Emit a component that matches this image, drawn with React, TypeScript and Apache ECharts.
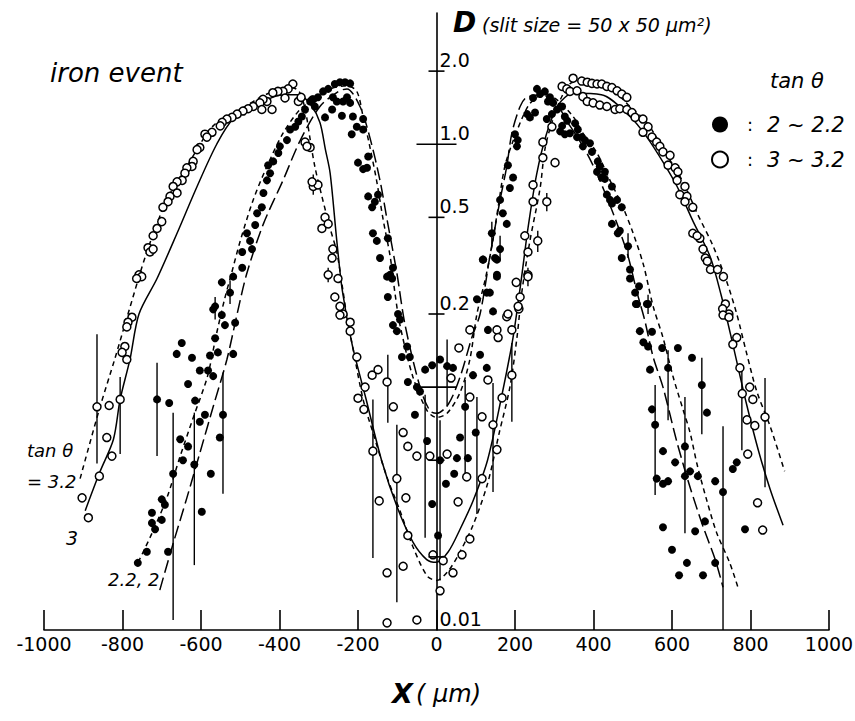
import React, { useEffect, useRef } from "react";
import * as echarts from "echarts";

// ---------- data (x in µm, D on log scale) ----------
const X_TICKS_MIN = -1000;
const X_TICKS_MAX = 1000;
const X_INTERVAL = 200;
const Y_MIN = 0.01;
const Y_MAX = 3.47;

const Y_TICK_VALUES = [2, 1, 0.5, 0.2, 0.1, 0.05, 0.02];
const Y_LONG_TICKS = [1, 0.1];
const Y_LABEL_VALUES = [2, 1, 0.5, 0.2, 0.01];
const Y_LABEL_TEXT = ["2.0", "1.0", "0.5", "0.2", "0.01"];

const SERIES_FILLED = "2 ~ 2.2";
const SERIES_OPEN = "3 ~ 3.2";

// tan θ = 2 ~ 2.2 (filled circles)
const FILLED_POINTS: [number, number][] = [
  [-569, 0.209], [-547, 0.198], [-539, 0.18], [-513, 0.184],
  [-649, 0.152], [-662, 0.137], [-623, 0.132],
  [-564, 0.159], [-577, 0.135], [-557, 0.139], [-518, 0.137],
  [-603, 0.117], [-582, 0.117], [-569, 0.111],
  [-633, 0.103], [-615, 0.088], [-603, 0.072], [-590, 0.077],
  [-712, 0.089], [-681, 0.086], [-544, 0.077], [-552, 0.062],
  [-653, 0.061], [-633, 0.057], [-646, 0.05],
  [-617, 0.048], [-671, 0.044], [-575, 0.044],
  [-700, 0.0345], [-692, 0.0328], [-725, 0.0304], [-700, 0.0284], [-725, 0.0276], [-717, 0.026],
  [-598, 0.0307], [-738, 0.021], [-684, 0.021], [-761, 0.0189],
  [-547, 0.27], [-526, 0.245], [-564, 0.215], [-518, 0.285], [-495, 0.31], [-495, 0.36],
  [-470, 0.37], [-483, 0.43], [-475, 0.4], [-462, 0.465], [-457, 0.52], [-445, 0.55],
  [-441, 0.63], [-432, 0.71], [-424, 0.76], [-429, 0.82], [-416, 0.85], [-403, 0.92],
  [-399, 0.98], [-381, 1.04], [-373, 1.15], [-360, 1.18], [-352, 1.24], [-343, 1.3],
  [-335, 1.39], [-322, 1.5], [-314, 1.53],
  [-259, 1.77], [-246, 1.8], [-233, 1.8], [-220, 1.78], [-276, 1.69], [-289, 1.65],
  [-302, 1.56], [-317, 1.53], [-310, 1.43], [-264, 1.56], [-254, 1.5], [-238, 1.5],
  [-228, 1.56], [-220, 1.48], [-241, 1.31], [-266, 1.39], [-284, 1.29], [-213, 1.3],
  [-187, 1.27], [-203, 1.18], [-187, 1.15], [-216, 1.1], [-174, 0.89], [-200, 0.84],
  [-177, 0.8], [-187, 0.79], [-149, 0.62], [-174, 0.61], [-157, 0.58], [-164, 0.55],
  [-162, 0.43], [-152, 0.4], [-124, 0.41], [-144, 0.34], [-126, 0.285], [-113, 0.28],
  [-124, 0.235], [-98, 0.2], [-111, 0.31], [-118, 0.29],
  [-93, 0.19], [-111, 0.18], [-101, 0.17], [-75, 0.147], [-88, 0.133], [-68, 0.133],
  [-11, 0.123], [9, 0.13], [-29, 0.118], [-73, 0.105], [-50, 0.1], [-42, 0.096],
  [27, 0.122], [42, 0.12], [-55, 0.077], [-24, 0.06], [9, 0.05], [-11, 0.033],
  [4, 0.0245], [24, 0.04], [45, 0.044], [52, 0.051], [80, 0.051], [60, 0.062],
  [73, 0.083], [100, 0.065], [93, 0.112], [111, 0.136], [103, 0.23], [128, 0.12],
  [128, 0.245], [131, 0.172], [144, 0.205], [118, 0.335], [149, 0.34], [154, 0.29],
  [256, 1.69], [264, 1.61], [276, 1.65], [284, 1.5], [289, 1.56], [297, 1.48], [246, 1.55],
  [231, 1.33], [238, 1.29], [251, 1.35], [281, 1.27], [294, 1.33], [307, 1.39], [320, 1.43],
  [327, 1.3], [333, 1.25], [320, 1.19], [315, 1.13], [327, 1.1], [340, 1.11], [353, 1.22],
  [360, 1.15], [370, 1.07], [358, 1.07], [378, 1.04], [373, 0.98], [391, 1.01], [396, 0.93],
  [200, 1.1], [207, 1.04], [205, 0.98], [182, 0.82], [195, 0.73], [187, 0.66], [162, 0.59],
  [169, 0.52], [179, 0.47], [141, 0.43], [162, 0.37], [154, 0.335], [119, 0.335],
  [136, 0.245], [154, 0.285],
  [411, 0.85], [416, 0.81], [409, 0.77], [429, 0.77], [421, 0.73], [429, 0.72], [447, 0.67],
  [434, 0.62], [442, 0.59], [460, 0.59], [447, 0.57], [472, 0.55], [447, 0.47], [467, 0.44],
  [462, 0.43], [488, 0.38], [472, 0.34], [493, 0.305], [493, 0.28], [506, 0.245], [516, 0.26],
  [511, 0.22], [539, 0.22], [508, 0.22], [536, 0.22], [518, 0.17], [549, 0.169], [527, 0.153],
  [539, 0.147], [575, 0.145], [615, 0.145], [651, 0.132], [544, 0.118], [590, 0.12],
  [676, 0.102], [689, 0.0785], [549, 0.081], [557, 0.07], [577, 0.0545], [608, 0.049],
  [633, 0.057], [561, 0.042], [577, 0.04], [590, 0.041], [633, 0.043], [646, 0.045],
  [666, 0.043], [710, 0.041], [730, 0.037], [755, 0.046], [765, 0.049], [577, 0.0265],
  [659, 0.0255], [684, 0.028], [600, 0.0214], [638, 0.0189], [710, 0.0189], [618, 0.0168],
  [679, 0.0168], [786, 0.026],
];

// tan θ = 3 ~ 3.2 (open circles)
const OPEN_POINTS: [number, number][] = [
  [-366, 1.77], [-378, 1.69], [-391, 1.65], [-404, 1.65], [-417, 1.63], [-386, 1.55],
  [-352, 1.5], [-345, 1.56],
  [-432, 1.5], [-442, 1.53], [-450, 1.48], [-467, 1.43], [-480, 1.4], [-493, 1.37],
  [-508, 1.33], [-521, 1.29], [-534, 1.27], [-546, 1.23], [-551, 1.19], [-419, 1.39],
  [-445, 1.39], [-572, 1.12], [-590, 1.1], [-585, 1.07], [-603, 0.97], [-610, 0.95],
  [-620, 0.85], [-623, 0.81], [-636, 0.8], [-641, 0.76], [-648, 0.71], [-661, 0.7],
  [-671, 0.67], [-661, 0.63], [-679, 0.61], [-684, 0.58], [-697, 0.55], [-700, 0.48],
  [-712, 0.45], [-722, 0.42], [-735, 0.375], [-730, 0.36], [-722, 0.37], [-758, 0.29],
  [-751, 0.285], [-764, 0.28],
  [-776, 0.194], [-786, 0.185], [-789, 0.177], [-794, 0.147], [-801, 0.139], [-789, 0.13],
  [-806, 0.089], [-865, 0.083], [-834, 0.084], [-840, 0.062], [-827, 0.052], [-859, 0.043],
  [-903, 0.035], [-887, 0.029],
  [-335, 1.02], [-322, 0.97], [-330, 0.98], [-314, 0.67], [-302, 0.68], [-317, 0.7],
  [-284, 0.5], [-292, 0.45], [-276, 0.47], [-264, 0.37], [-266, 0.34], [-276, 0.29],
  [-251, 0.28], [-259, 0.235], [-246, 0.215], [-238, 0.2], [-246, 0.198], [-220, 0.185],
  [-220, 0.17], [-203, 0.133], [-164, 0.112], [-149, 0.118], [-182, 0.1], [-200, 0.09],
  [-185, 0.081], [-126, 0.105], [-110, 0.083], [-85, 0.065], [-73, 0.057], [-50, 0.052],
  [-17, 0.052], [-162, 0.0545], [-101, 0.042], [-146, 0.034], [-78, 0.035], [-73, 0.0245],
  [-9, 0.0204], [17, 0.0193], [-126, 0.0172], [-85, 0.0183], [9, 0.0145], [-126, 0.0107],
  [-50, 0.011],
  [42, 0.0172], [65, 0.0204], [85, 0.0237], [55, 0.0337], [77, 0.0427], [116, 0.042],
  [27, 0.053], [37, 0.109], [57, 0.145], [85, 0.091], [116, 0.0755], [131, 0.107],
  [144, 0.07], [154, 0.0553], [167, 0.0903], [85, 0.172], [154, 0.172], [179, 0.195],
  [192, 0.172], [157, 0.16], [192, 0.112], [203, 0.27], [213, 0.235], [210, 0.21],
  [233, 0.36], [233, 0.29],
  [294, 1.18], [271, 1.02], [271, 0.88], [302, 0.84], [246, 0.68], [246, 0.58], [281, 0.58],
  [225, 0.42], [258, 0.4], [233, 0.285], [208, 0.215], [182, 0.2],
  [348, 1.87], [370, 1.82], [384, 1.8], [396, 1.78], [409, 1.77], [421, 1.77], [434, 1.73],
  [447, 1.71], [460, 1.66], [472, 1.61], [485, 1.56],
  [320, 1.73], [332, 1.69], [340, 1.65], [358, 1.66], [373, 1.57], [384, 1.5], [399, 1.48],
  [416, 1.45], [434, 1.43], [455, 1.39], [467, 1.4], [485, 1.39], [498, 1.35], [506, 1.29],
  [526, 1.27], [539, 1.18], [526, 1.12], [549, 1.07], [561, 1.02], [569, 0.98], [577, 0.93],
  [595, 0.9], [590, 0.82], [608, 0.8], [615, 0.77], [613, 0.71], [633, 0.67], [620, 0.62],
  [638, 0.61], [633, 0.58], [653, 0.55], [653, 0.43], [671, 0.41], [664, 0.42], [679, 0.37],
  [685, 0.34], [690, 0.33], [698, 0.305], [716, 0.305], [731, 0.285], [736, 0.22],
  [729, 0.21], [745, 0.2], [730, 0.198], [745, 0.194], [765, 0.16], [755, 0.15],
  [773, 0.12], [798, 0.1], [806, 0.089], [779, 0.094], [791, 0.0733], [811, 0.0694],
  [837, 0.0753], [793, 0.053], [818, 0.0334], [831, 0.0258],
];

// error bars: [x, low, high]
const ERROR_BARS: [number, number, number][] = [
  [-865, 0.0485, 0.165], [-806, 0.053, 0.11], [-712, 0.052, 0.126], [-671, 0.011, 0.0785],
  [-617, 0.0185, 0.0785], [-544, 0.0364, 0.115], [-162, 0.0198, 0.089], [-124, 0.0713, 0.136],
  [-101, 0.013, 0.07], [-29, 0.024, 0.093], [9, 0.016, 0.073], [27, 0.083, 0.157],
  [73, 0.044, 0.107], [103, 0.03, 0.091], [144, 0.037, 0.104], [192, 0.072, 0.152],
  [557, 0.036, 0.102], [590, 0.073, 0.142], [633, 0.025, 0.091], [676, 0.064, 0.132],
  [730, 0.01, 0.069], [778, 0.055, 0.12], [837, 0.0387, 0.109],
  [-314, 0.62, 0.75], [-276, 0.27, 0.31], [-564, 0.19, 0.235], [-526, 0.22, 0.275],
  [141, 0.38, 0.48], [162, 0.33, 0.42], [233, 0.26, 0.31], [258, 0.36, 0.44],
  [281, 0.53, 0.63], [488, 0.34, 0.43], [539, 0.2, 0.24],
];

// fitted curves
const CURVE_TAN_3_2: [number, number][] = [
  [-908, 0.042], [-860, 0.08], [-820, 0.13], [-786, 0.2], [-738, 0.36], [-687, 0.59],
  [-636, 0.81], [-569, 1.19], [-500, 1.39], [-432, 1.61], [-373, 1.72], [-350, 1.65],
  [-335, 1.4], [-322, 1.05], [-310, 0.81], [-292, 0.61], [-271, 0.45], [-254, 0.36],
  [-240, 0.26], [-228, 0.194], [-212, 0.142], [-187, 0.089], [-162, 0.065], [-126, 0.0425],
  [-93, 0.031], [-60, 0.022], [-24, 0.0167], [0, 0.016], [30, 0.0175], [60, 0.021],
  [93, 0.027], [130, 0.04], [160, 0.065], [187, 0.1], [205, 0.16], [218, 0.25], [238, 0.4],
  [264, 0.66], [276, 0.95], [294, 1.23], [320, 1.58], [348, 1.8], [400, 1.78], [450, 1.66],
  [493, 1.43], [536, 1.23], [578, 0.95], [628, 0.7], [664, 0.52], [705, 0.38], [740, 0.27],
  [765, 0.2], [790, 0.138], [816, 0.096], [850, 0.069], [887, 0.045],
];
const CURVE_TAN_3: [number, number][] = [
  [-895, 0.031], [-857, 0.045], [-823, 0.061], [-806, 0.089], [-781, 0.13], [-758, 0.2],
  [-712, 0.28], [-661, 0.43], [-610, 0.67], [-560, 1.0], [-518, 1.27], [-450, 1.48],
  [-390, 1.6], [-350, 1.6], [-320, 1.45], [-297, 1.23], [-283, 0.95], [-271, 0.76],
  [-254, 0.4], [-240, 0.25], [-215, 0.15], [-180, 0.09], [-140, 0.05], [-100, 0.032],
  [-60, 0.023], [-25, 0.0195], [0, 0.019], [30, 0.021], [60, 0.026], [93, 0.034],
  [130, 0.05], [165, 0.09], [195, 0.16], [215, 0.27], [233, 0.45], [255, 0.75], [280, 1.1],
  [310, 1.45], [348, 1.62], [420, 1.6], [493, 1.3], [536, 1.07], [578, 0.84], [613, 0.67],
  [654, 0.48], [697, 0.345], [725, 0.24], [755, 0.15], [790, 0.085], [820, 0.055],
  [850, 0.038], [883, 0.027],
];
const CURVE_TAN_2_2: [number, number][] = [
  [-760, 0.019], [-725, 0.025], [-687, 0.035], [-653, 0.052], [-619, 0.0755], [-584, 0.11],
  [-560, 0.167], [-540, 0.23], [-522, 0.295], [-500, 0.4], [-467, 0.59], [-432, 0.81],
  [-391, 1.11], [-348, 1.39], [-314, 1.53], [-271, 1.69], [-228, 1.74], [-203, 1.65],
  [-187, 1.3], [-170, 0.98], [-152, 0.7], [-136, 0.49], [-118, 0.345], [-106, 0.245],
  [-93, 0.18], [-60, 0.11], [-24, 0.08], [0, 0.075], [27, 0.078], [60, 0.095], [85, 0.13],
  [103, 0.2], [124, 0.277], [141, 0.38], [157, 0.55], [174, 0.81], [195, 1.03], [220, 1.3],
  [238, 1.47], [264, 1.58], [300, 1.55], [348, 1.3], [373, 1.11], [409, 0.92], [442, 0.71],
  [475, 0.55], [501, 0.43], [527, 0.32], [552, 0.215], [577, 0.16], [603, 0.11], [629, 0.08],
  [646, 0.065], [664, 0.048], [689, 0.034], [714, 0.0251], [747, 0.0189], [768, 0.015],
];
const CURVE_TAN_2: [number, number][] = [
  [-705, 0.0146], [-671, 0.0227], [-636, 0.035], [-603, 0.0535], [-569, 0.083], [-534, 0.13],
  [-508, 0.2], [-483, 0.295], [-441, 0.47], [-391, 0.71], [-348, 1.03], [-297, 1.43],
  [-250, 1.65], [-228, 1.69], [-195, 1.43], [-170, 1.07], [-144, 0.71], [-126, 0.49],
  [-101, 0.295], [-80, 0.18], [-42, 0.1], [-17, 0.08], [0, 0.078], [30, 0.085], [60, 0.11],
  [90, 0.16], [111, 0.2], [136, 0.345], [162, 0.59], [179, 0.81], [192, 1.11], [213, 1.43],
  [230, 1.56], [280, 1.6], [340, 1.19], [383, 0.92], [416, 0.71], [450, 0.52], [485, 0.36],
  [511, 0.245], [530, 0.19], [552, 0.133], [577, 0.1], [613, 0.059], [646, 0.0387],
  [679, 0.0267], [710, 0.0195], [730, 0.015],
];

const FONT = '"DejaVu Sans", "Liberation Sans", sans-serif';

export default function App() {
  const ref = useRef<HTMLDivElement>(null);

  useEffect(() => {
    if (!ref.current) return;
    const chart = echarts.init(ref.current, null, { renderer: "svg" });

    const curve = (name: string, data: [number, number][], type: any) => ({
      name,
      type: "line",
      data,
      symbol: "none",
      smooth: 0.3,
      z: 2,
      silent: true,
      lineStyle: { color: "#000", width: 1.5, type },
    });

    const option: any = {
      animation: false,
      backgroundColor: "#fff",
      grid: { left: 44, right: 26, top: 13, bottom: 91, containLabel: false, outerBoundsMode: "none" },
      xAxis: {
        type: "value",
        min: X_TICKS_MIN,
        max: X_TICKS_MAX,
        interval: X_INTERVAL,
        axisLine: { lineStyle: { color: "#000", width: 1.6 } },
        axisTick: { inside: true, length: 20, lineStyle: { color: "#000", width: 1.6 } },
        axisLabel: {
          color: "#000",
          fontSize: 19,
          fontFamily: FONT,
          margin: 4,
          formatter: (v: number) => String(v),
        },
        splitLine: { show: false },
        name: "{x|X} {p|( μm)}",
        nameLocation: "middle",
        nameGap: 50,
        nameTextStyle: {
          rich: {
            x: { fontSize: 27, fontWeight: "bold", fontStyle: "italic", fontFamily: FONT, color: "#000" },
            p: { fontSize: 24, fontStyle: "italic", fontFamily: FONT, color: "#000" },
          },
        },
      },
      yAxis: {
        type: "log",
        logBase: 10,
        min: Y_MIN,
        max: Y_MAX,
        axisLine: { show: true, onZero: true, lineStyle: { color: "#000", width: 1.6 } },
        axisTick: { show: false },
        axisLabel: { show: false },
        splitLine: { show: false },
      },
      legend: {
        data: [SERIES_FILLED, SERIES_OPEN],
        orient: "vertical",
        left: 706,
        top: 109,
        itemWidth: 16,
        itemHeight: 16,
        itemGap: 14,
        icon: "circle",
        selectedMode: false,
        formatter: (name: string) => `{c|:}{v|${name}}`,
        textStyle: {
          rich: {
            c: { width: 34, align: "center", fontSize: 18, fontFamily: FONT, color: "#000", lineHeight: 24 },
            v: { fontSize: 21, fontStyle: "italic", fontFamily: FONT, color: "#000", lineHeight: 24 },
          },
        },
      },
      graphic: [
        {
          type: "text",
          left: 453,
          top: 8,
          style: { text: "D", font: `italic bold 28px ${FONT}`, fill: "#000" },
        },
        {
          type: "text",
          left: 482,
          top: 15,
          style: { text: "(slit size = 50 x 50 μm²)", font: `italic 19px ${FONT}`, fill: "#000" },
        },
        {
          type: "text",
          left: 50,
          top: 60,
          style: { text: "iron event", font: `italic 26px ${FONT}`, fill: "#000" },
        },
        {
          type: "text",
          left: 770,
          top: 70,
          style: { text: "tan θ", font: `italic 21px ${FONT}`, fill: "#000" },
        },
        {
          type: "text",
          left: 27,
          top: 441,
          style: { text: "tan θ", font: `italic 18px ${FONT}`, fill: "#000" },
        },
        {
          type: "text",
          left: 27,
          top: 472,
          style: { text: "= 3.2", font: `italic 18px ${FONT}`, fill: "#000" },
        },
        {
          type: "text",
          left: 66,
          top: 528,
          style: { text: "3", font: `italic 19px ${FONT}`, fill: "#000" },
        },
        {
          type: "text",
          left: 108,
          top: 570,
          style: { text: "2.2, 2", font: `italic 18px ${FONT}`, fill: "#000" },
        },
      ],
      series: [
        curve("tan 3.2", CURVE_TAN_3_2, [5, 4]),
        curve("tan 3", CURVE_TAN_3, "solid"),
        curve("tan 2.2", CURVE_TAN_2_2, [5, 4]),
        curve("tan 2", CURVE_TAN_2, [13, 5]),
        {
          name: "errors",
          type: "custom",
          z: 2,
          silent: true,
          data: ERROR_BARS,
          encode: { x: 0, y: [1, 2] },
          renderItem: (params: any, api: any) => {
            const lo = api.coord([api.value(0), api.value(1)]);
            const hi = api.coord([api.value(0), api.value(2)]);
            return {
              type: "line",
              shape: { x1: lo[0], y1: lo[1], x2: hi[0], y2: hi[1] },
              style: { stroke: "#000", lineWidth: 1.4 },
            };
          },
        },
        {
          name: SERIES_FILLED,
          type: "scatter",
          data: FILLED_POINTS,
          symbol: "circle",
          symbolSize: 8,
          z: 4,
          itemStyle: { color: "#000", opacity: 1 },
        },
        {
          name: SERIES_OPEN,
          type: "scatter",
          data: OPEN_POINTS,
          symbol: "circle",
          symbolSize: 8,
          z: 4,
          itemStyle: { color: "#fff", borderColor: "#000", borderWidth: 1.5, opacity: 1 },
        },
        {
          name: "yTicks",
          type: "custom",
          z: 5,
          silent: true,
          data: Y_TICK_VALUES.map((v) => [0, v, Y_LONG_TICKS.includes(v) ? 1 : 0]),
          encode: { x: 0, y: 1 },
          renderItem: (params: any, api: any) => {
            const p = api.coord([api.value(0), api.value(1)]);
            const half = api.value(2) ? 20 : 8;
            return {
              type: "line",
              shape: { x1: p[0] - half, y1: p[1], x2: p[0] + half, y2: p[1] },
              style: { stroke: "#000", lineWidth: 1.6 },
            };
          },
        },
        {
          name: "yLabels",
          type: "custom",
          z: 5,
          silent: true,
          data: Y_LABEL_VALUES.map((v) => [0, v]),
          encode: { x: 0, y: 1 },
          renderItem: (params: any, api: any) => {
            const p = api.coord([api.value(0), api.value(1)]);
            return {
              type: "text",
              x: p[0] + 3,
              y: p[1] - 2,
              style: {
                text: Y_LABEL_TEXT[params.dataIndex],
                fill: "#000",
                font: `19px ${FONT}`,
                align: "left",
                verticalAlign: "bottom",
              },
            };
          },
        },
      ],
    };

    chart.setOption(option);
    return () => chart.dispose();
  }, []);

  return (
    <div
      ref={ref}
      style={{ position: "fixed", left: 0, top: 0, width: 855, height: 721, background: "#fff" }}
    />
  );
}
